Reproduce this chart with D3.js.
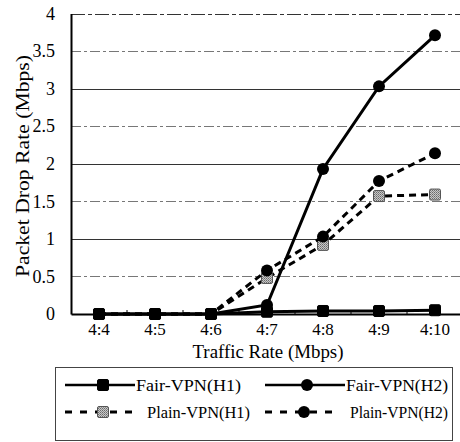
<!DOCTYPE html>
<html>
<head>
<meta charset="utf-8">
<script src="https://cdn.jsdelivr.net/npm/d3@7"></script>
<style>
  body { margin: 0; background: #fff; }
  svg { display: block; }
  svg text { font-family: "Liberation Serif", "Times New Roman", "Liberation Sans", Arimo, Arial, sans-serif; fill: #000; }
</style>
</head>
<body>
<svg id="chart" width="460" height="442"></svg>
<script>
// data
var categories = ["4:4", "4:5", "4:6", "4:7", "4:8", "4:9", "4:10"];
var fairH1  = [0, 0, 0, 0.03, 0.04, 0.04, 0.05];
var fairH2  = [0, 0, 0, 0.12, 1.93, 3.03, 3.71];
var plainH1 = [0, 0, 0, 0.48, 0.92, 1.57, 1.59];
var plainH2 = [0, 0, 0, 0.58, 1.03, 1.77, 2.14];
var yTicks = [0, 0.5, 1, 1.5, 2, 2.5, 3, 3.5, 4];
var seriesNames = ["Fair-VPN(H1)", "Fair-VPN(H2)", "Plain-VPN(H1)", "Plain-VPN(H2)"];

var svg = d3.select("#chart");

var x = d3.scaleBand().domain(categories).range([71, 463]).paddingInner(0).paddingOuter(0);
var y = d3.scaleLinear().domain([0, 4]).range([314, 13.5]);
var cx = function(c) { return x(c) + x.bandwidth() / 2; };

// pattern for the grey square marker
var defs = svg.append("defs");
var pat = defs.append("pattern").attr("id", "chk").attr("width", 2).attr("height", 2)
  .attr("patternUnits", "userSpaceOnUse");
pat.append("rect").attr("width", 2).attr("height", 2).attr("fill", "#c8c8c8");
pat.append("rect").attr("width", 1).attr("height", 1).attr("fill", "#6a6a6a");
pat.append("rect").attr("x", 1).attr("y", 1).attr("width", 1).attr("height", 1).attr("fill", "#8a8a8a");

// gridlines
svg.append("g").selectAll("line").data(yTicks.filter(function(d) { return d > 0; }))
  .enter().append("line")
  .attr("x1", 71).attr("x2", 463)
  .attr("y1", function(d) { return Math.round(y(d)) + 0.5; })
  .attr("y2", function(d) { return Math.round(y(d)) + 0.5; })
  .attr("stroke", function(d) { return d % 1 === 0 ? "#333" : "#777"; })
  .attr("stroke-width", 1)
  .attr("stroke-dasharray", function(d) { return d % 1 === 0 ? (d === 4 ? "14,3,4,3" : null) : "10,3,3,3"; });

// y axis
var yAxis = d3.axisLeft(y).tickValues(yTicks).tickSize(0).tickPadding(16)
  .tickFormat(function(d) { return d; });
var gy = svg.append("g").attr("transform", "translate(71,0)").call(yAxis).attr("font-family", null);
gy.select(".domain").attr("stroke", "#000").attr("stroke-width", 2);
gy.selectAll("text").attr("font-size", 18);

// x axis
var xAxis = d3.axisBottom(x).tickSize(0).tickPadding(9);
var gx = svg.append("g").attr("transform", "translate(0,314)").call(xAxis).attr("font-family", null);
gx.select(".domain").attr("stroke", "#000").attr("stroke-width", 2);
gx.selectAll("text").attr("font-size", 17);
// small tick marks at category boundaries
gx.append("g").selectAll("line").data(categories.slice(1)).enter().append("line")
  .attr("x1", function(d) { return x(d); }).attr("x2", function(d) { return x(d); })
  .attr("y1", 0).attr("y2", -4).attr("stroke", "#000").attr("stroke-width", 1);

// axis titles
svg.append("text").attr("x", 268).attr("y", 358).attr("text-anchor", "middle")
  .attr("font-size", 18).attr("textLength", 151).attr("lengthAdjust", "spacingAndGlyphs")
  .text("Traffic Rate (Mbps)");
svg.append("text").attr("transform", "translate(29,166) rotate(-90)").attr("text-anchor", "middle")
  .attr("font-size", 19).attr("textLength", 222).attr("lengthAdjust", "spacingAndGlyphs")
  .text("Packet Drop Rate (Mbps)");

// series
var series = [
  { name: seriesNames[2], values: plainH1, dash: "7,5", marker: "sq", fill: "url(#chk)" },
  { name: seriesNames[3], values: plainH2, dash: "7,5", marker: "ci", fill: "#000" },
  { name: seriesNames[1], values: fairH2, dash: null, marker: "ci", fill: "#000" },
  { name: seriesNames[0], values: fairH1, dash: null, marker: "sq", fill: "#000" }
];

var line = d3.line().x(function(d, i) { return cx(categories[i]); }).y(function(d) { return y(d); });

function drawMarker(g, type, fill, px, py) {
  if (type === "sq") {
    g.append("rect").attr("x", px - 5.5).attr("y", py - 5.5).attr("width", 11).attr("height", 11)
      .attr("rx", 1.5).attr("fill", fill).attr("stroke", fill === "#000" ? "#000" : "#555").attr("stroke-width", 1);
  } else {
    g.append("circle").attr("cx", px).attr("cy", py).attr("r", 6).attr("fill", fill);
  }
}

series.forEach(function(s) {
  var g = svg.append("g");
  g.append("path").datum(s.values).attr("d", line).attr("fill", "none")
    .attr("stroke", "#000").attr("stroke-width", 3)
    .attr("stroke-dasharray", s.dash);
  s.values.forEach(function(v, i) { drawMarker(g, s.marker, s.fill, cx(categories[i]), y(v)); });
});

// legend
var lg = svg.append("g");
lg.append("rect").attr("x", 55.5).attr("y", 367.5).attr("width", 397).attr("height", 73)
  .attr("fill", "none").attr("stroke", "#444").attr("stroke-width", 1);
var legendItems = [
  { name: seriesNames[0], x0: 65, x1: 135, mx: 103, y: 385, dash: null, marker: "sq", fill: "#000", tx: 136, w: 105 },
  { name: seriesNames[1], x0: 265, x1: 345, mx: 307, y: 385, dash: null, marker: "ci", fill: "#000", tx: 346, w: 102 },
  { name: seriesNames[2], x0: 65, x1: 136, mx: 103, y: 412, dash: "7,8", marker: "sq", fill: "url(#chk)", tx: 147, w: 103 },
  { name: seriesNames[3], x0: 265, x1: 340, mx: 304, y: 412, dash: "7,8", marker: "ci", fill: "#000", tx: 350, w: 98 }
];
legendItems.forEach(function(d) {
  lg.append("line").attr("x1", d.x0).attr("x2", d.x1).attr("y1", d.y).attr("y2", d.y)
    .attr("stroke", "#000").attr("stroke-width", d.dash ? 3 : 2.5).attr("stroke-dasharray", d.dash);
  drawMarker(lg, d.marker, d.fill, d.mx, d.y);
  lg.append("text").attr("x", d.tx).attr("y", d.y + 6).attr("font-size", 16)
    .attr("textLength", d.w).attr("lengthAdjust", "spacingAndGlyphs").text(d.name);
});
</script>
</body>
</html>
